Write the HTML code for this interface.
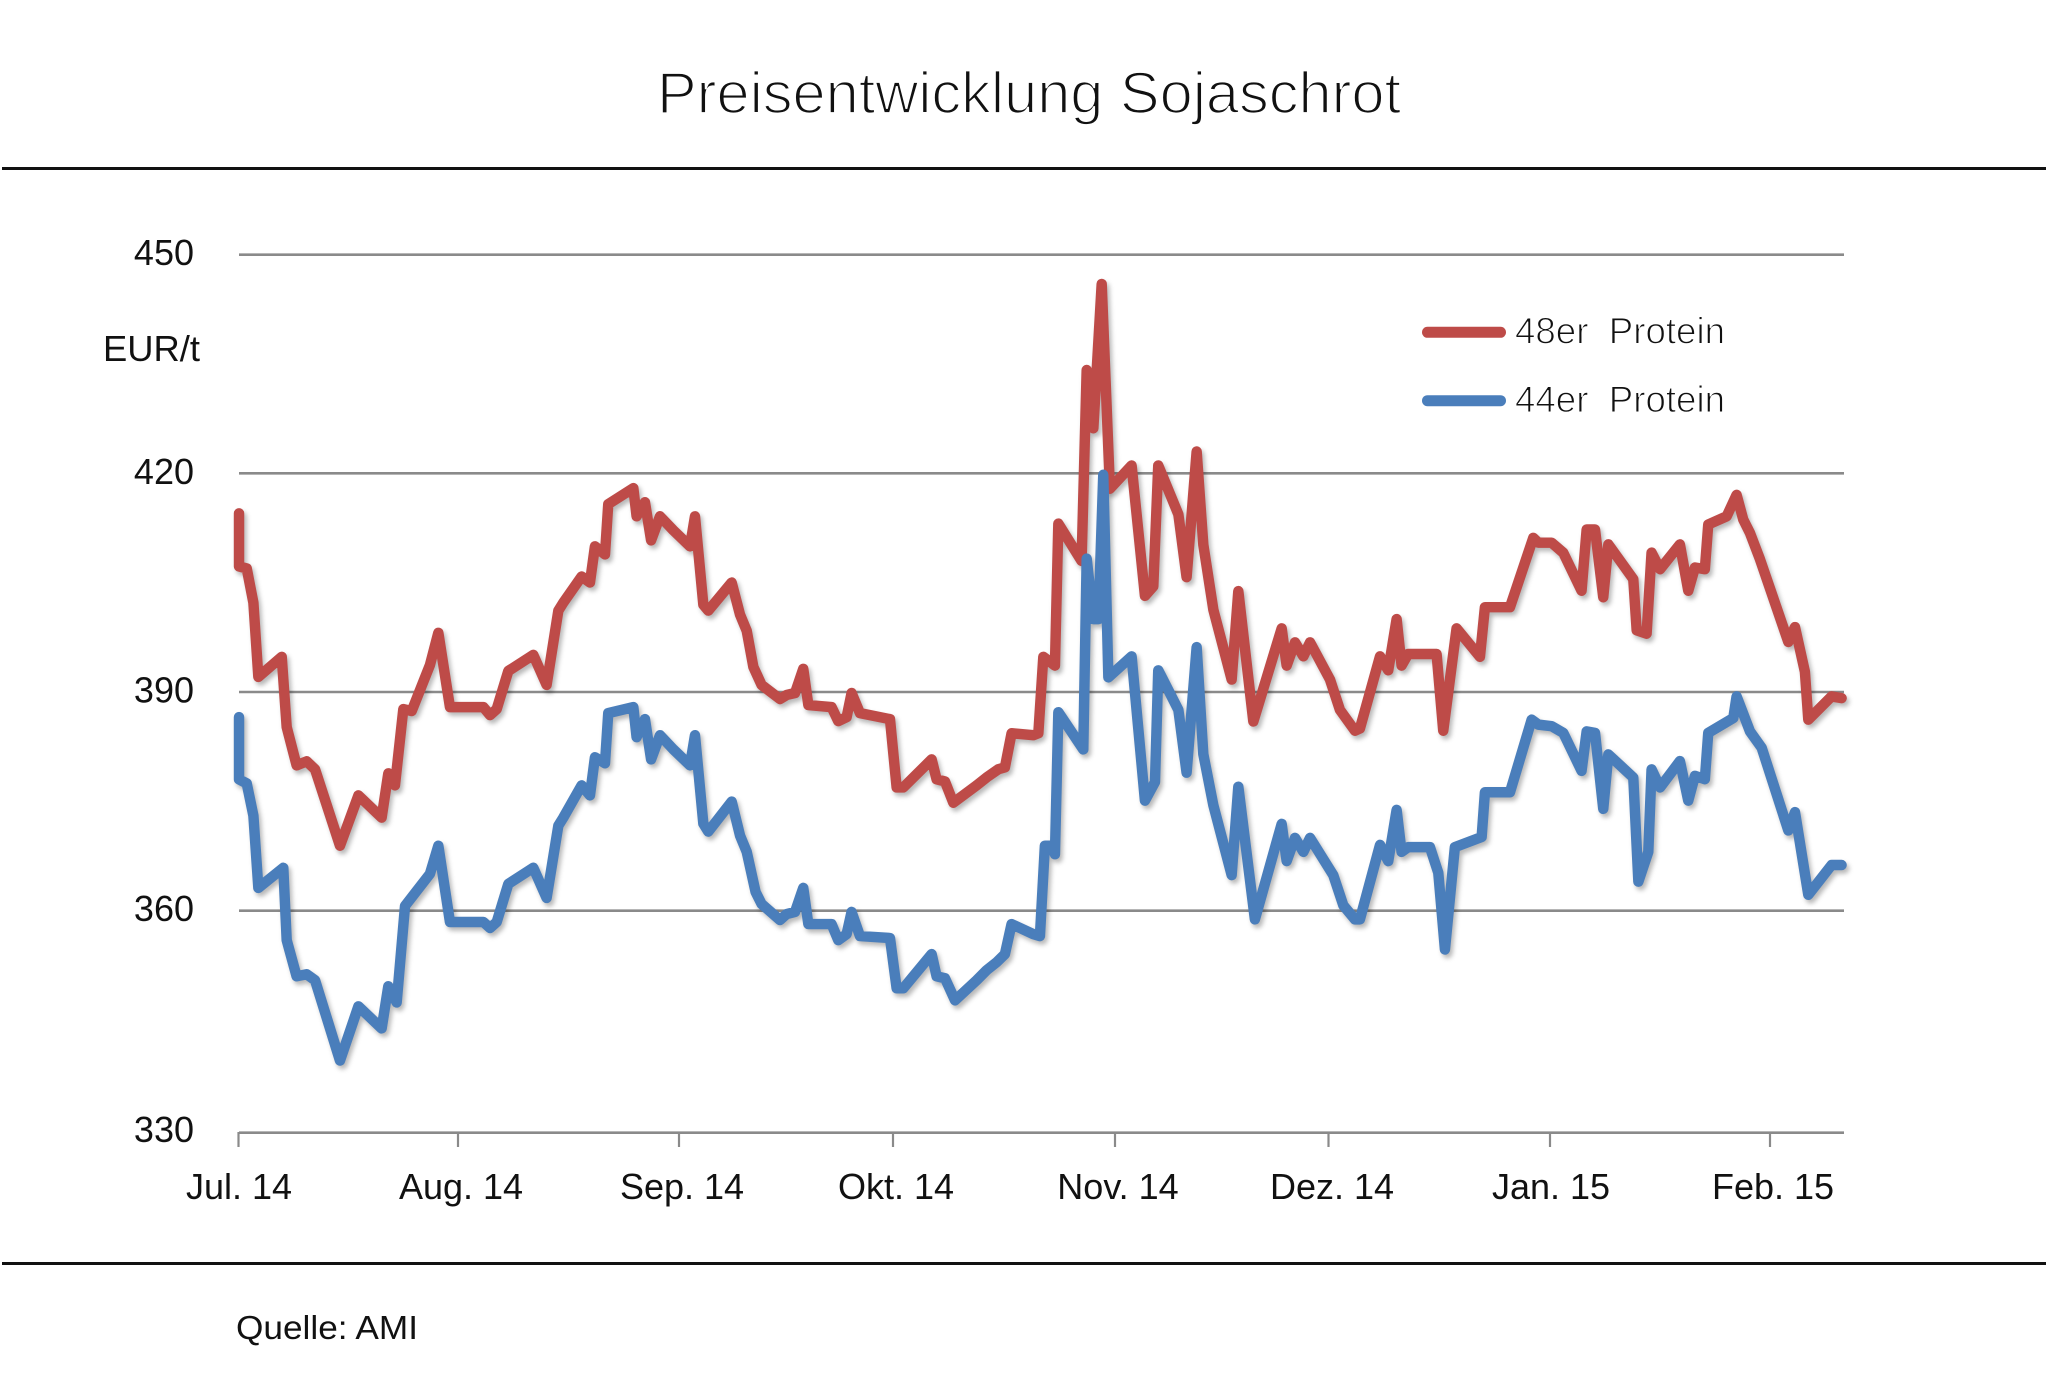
<!DOCTYPE html>
<html>
<head>
<meta charset="utf-8">
<style>
  html,body{margin:0;padding:0;background:#fff;}
  body{width:2048px;height:1400px;overflow:hidden;}
  svg{display:block;}
  text{font-family:"Liberation Sans","DejaVu Sans",sans-serif;fill:#111;}
</style>
</head>
<body>
<svg width="2048" height="1400" viewBox="0 0 2048 1400" xmlns="http://www.w3.org/2000/svg">
  <defs>
    <filter id="blur" x="-5%" y="-5%" width="110%" height="115%">
      <feGaussianBlur stdDeviation="1.8"/>
    </filter>
    <polyline id="red" points="
183,393 183,433.7 188.9,435.2 194,461.4 197.8,518.3 215.7,502.9 219.5,556.7 227.1,586 234.8,582.9 241.2,589
260.3,647.5 274.4,609 292.2,626 297.3,592.1 302.4,601.3 308.8,542.9 315.2,544.4 329.2,509.1 335.6,484.5 344.5,541.4
370.1,541.4 375.2,547.5 380.3,542.9 389.2,513.7 408.3,501.4 418.5,524.4 427.5,467.5 431.3,461.4 445.3,441.4 451.7,446
455.5,418.3 463.2,424.5 465.7,386 484.9,373.7 487.4,395.3 493.8,384.5 498.5,413.7 505.3,395.3 515.5,406 528.3,418.3
532.1,395.3 538.5,463 542.3,467.5 560.2,446 566.6,470.6 571.7,482.9 576.8,510.6 583.1,524.4 597.2,535.2 602.3,532.1
608.7,530.6 615,512.1 618.9,539.8 636.7,541.4 641.8,552.1 648.2,549.1 652,530.6 658.4,546 666.1,547.5 681.4,550.6
686.5,602.9 691.6,602.9 713.3,581.4 717.1,596.7 723.5,598.3 729.9,614.6 747.8,601.3 755.4,595.2 764.3,589 769.4,587.5
774.5,561.4 791.1,562.9 795,561.4 798.8,502.9 807.7,509.6 810.3,400.9 828.1,429.5 832,283.3 837.1,327.9 843.5,217.4
849.8,374.2 866.4,356.4 876.6,456.2 883,449 886.8,356.4 902.2,393.8 908.5,441.9 916.2,345.7 921.3,417 929,466.9
943,520.3 948.1,452.6 959.6,552.4 981.3,481.1 985.1,509.6 991.5,491.8 997.9,502.5 1003,491.8 1018.3,520.3 1025.9,543.5
1037.4,559.5 1041.2,557.8 1056.6,502.5 1062.9,513.2 1069.3,474 1073.1,509.6 1078.2,500.7 1099.9,500.7 1105,559.5 1115.2,481.1
1133.1,502.9 1136.9,464.9 1156.1,464.9 1173.9,411.8 1177.8,415.5 1188,415.5 1196.9,423.2 1210.9,452.3 1214.8,405.4 1221.2,405.4
1227.5,457.3 1231.4,416.8 1250.5,443.4 1253.1,482.6 1260.7,485.2 1264.5,423.1 1271,435.8 1286.2,416.8 1292.6,452.3 1297.7,434.5
1305.3,435.8 1307.9,401.6 1322,395.3 1329.6,378.9 1334.7,397.8 1339.8,408 1347.5,428.2 1369.2,491.5 1374.3,480.1 1381.9,514.3
1384.5,551 1402.3,533.2 1410,534.5"/>
    <polyline id="blue" points="
183,549 183,596.7 188.9,599.8 194,624.4 197.8,679.8 216.9,664.4 219.5,719.8 227.1,747.5 234.8,745.9 241.2,750.5
260.3,812 274.4,770.5 292.2,787.4 297.3,755.1 303.7,767.5 310.1,693.6 329.2,669 335.6,647.5 344.5,705.9 370.1,705.9
375.2,710.5 380.3,705.9 389.2,676.7 408.3,664.4 418.5,687.5 427.5,632.1 431.3,626 445.3,601.3 451.7,609 455.5,579.8
463.2,584.4 465.7,546 484.9,541.4 487.4,564.4 493.8,550.6 498.5,581.4 505.3,562.9 515.5,573.7 528.3,586 532.1,562.9
538.5,630.6 542.3,636.7 560.2,613.7 566.6,639.8 571.7,652.1 578.5,682.9 583.1,692.1 597.2,704.4 602.3,699.8 608.7,698.2
615,679.8 618.9,707.5 636.7,707.5 641.8,719.8 648.2,715.2 652,698.2 658.4,716.7 681.4,718.2 686.5,756.7 691.6,756.7
713.3,730.5 717.1,747.5 723.5,749 731.2,765.9 747.8,750.5 755.4,742.8 763.1,736.7 769.4,730.5 774.5,707.5 791.1,715.2
796.2,716.7 800,647.5 805.2,647.5 807.7,654 810.3,545.3 829.4,573.8 832,427.7 837.1,474 841,474 844.7,363.5
848.6,518.6 866.4,502.5 876.6,613 884.3,598.7 886.8,513.2 902.2,543.5 908.5,591.6 916.2,495.4 921.3,577.4 929,616.6
943,670 948.1,602.3 960.8,703.9 981.3,630.8 985.1,659.3 991.5,641.5 997.9,652.2 1003,641.5 1020.8,670 1028.5,693.2
1037.4,703.9 1041.2,703.9 1056.6,646.9 1062.9,659.3 1069.3,620.1 1073.1,652.2 1078.2,648.6 1094.8,648.6 1101.2,668.2 1106.3,727
1113.9,648.6 1134.4,640.8 1136.9,606.6 1156.1,606.6 1172.7,551 1177.8,554.8 1188,556 1196.9,561.1 1210.9,590.2 1214.8,560
1221.2,561.1 1227.5,619.3 1231.4,577.6 1250.5,595.3 1254.4,675 1262,652.2 1264.5,589 1271,602.9 1286.2,582.7 1292.6,613
1297.7,594 1305.3,596.6 1307.9,561.1 1327.1,549.7 1329.6,533.2 1339.8,559.9 1348.8,572.5 1369.2,635.8 1374.3,621.8 1384.5,685.1
1402.3,662.3 1410,662.3"/>
  </defs>
  <rect x="0" y="0" width="2048" height="1400" fill="#fff"/>

  <!-- Title -->
  <text x="657" y="113" font-size="58" textLength="744" lengthAdjust="spacingAndGlyphs" stroke="#fff" stroke-width="1.8">Preisentwicklung Sojaschrot</text>

  <!-- Rules -->
  <line x1="2" y1="168.5" x2="2046" y2="168.5" stroke="#111" stroke-width="3"/>
  <line x1="2" y1="1263.5" x2="2046" y2="1263.5" stroke="#111" stroke-width="3"/>

  <!-- Gridlines -->
  <g stroke="#8a8a8a" stroke-width="2.6">
    <line x1="239" y1="254.7" x2="1844" y2="254.7"/>
    <line x1="239" y1="473.3" x2="1844" y2="473.3"/>
    <line x1="239" y1="692" x2="1844" y2="692"/>
    <line x1="239" y1="910.7" x2="1844" y2="910.7"/>
    <line x1="239" y1="1132.7" x2="1844" y2="1132.7"/>
  </g>
  <g stroke="#8a8a8a" stroke-width="2.2">
    <line x1="238.5" y1="1132" x2="238.5" y2="1147"/>
    <line x1="458" y1="1132" x2="458" y2="1147"/>
    <line x1="679" y1="1132" x2="679" y2="1147"/>
    <line x1="893" y1="1132" x2="893" y2="1147"/>
    <line x1="1115" y1="1132" x2="1115" y2="1147"/>
    <line x1="1328.5" y1="1132" x2="1328.5" y2="1147"/>
    <line x1="1550" y1="1132" x2="1550" y2="1147"/>
    <line x1="1770" y1="1132" x2="1770" y2="1147"/>
  </g>

  <!-- Y labels -->
  <g font-size="36" text-anchor="end">
    <text x="194" y="265">450</text>
    <text x="194" y="484">420</text>
    <text x="194" y="702.5">390</text>
    <text x="194" y="921">360</text>
    <text x="194" y="1142">330</text>
  </g>
  <text x="103" y="361" font-size="36" textLength="97" lengthAdjust="spacingAndGlyphs">EUR/t</text>

  <!-- X labels -->
  <g font-size="36" text-anchor="middle">
    <text x="239" y="1199">Jul. 14</text>
    <text x="461" y="1199">Aug. 14</text>
    <text x="682" y="1199">Sep. 14</text>
    <text x="896" y="1199">Okt. 14</text>
    <text x="1118" y="1199">Nov. 14</text>
    <text x="1332" y="1199">Dez. 14</text>
    <text x="1551" y="1199">Jan. 15</text>
    <text x="1773" y="1199">Feb. 15</text>
  </g>

  <!-- Source -->
  <text x="236" y="1339" font-size="33" textLength="182" lengthAdjust="spacingAndGlyphs">Quelle: AMI</text>

  <!-- Legend -->
  <line x1="1427.5" y1="332.3" x2="1500.5" y2="332.3" stroke="#BE4B48" stroke-width="11" stroke-linecap="round"/>
  <line x1="1427.5" y1="400.7" x2="1500.5" y2="400.7" stroke="#4A7EBB" stroke-width="11" stroke-linecap="round"/>
  <text x="1515" y="343.5" font-size="37" textLength="210" lengthAdjust="spacingAndGlyphs" stroke="#fff" stroke-width="1.1" style="white-space:pre">48er  Protein</text>
  <text x="1515" y="412" font-size="37" textLength="210" lengthAdjust="spacingAndGlyphs" stroke="#fff" stroke-width="1.1" style="white-space:pre">44er  Protein</text>

  <!-- Series shadows -->
  <g transform="translate(2.5,3.5) scale(1.3061)" fill="none" stroke="#000" stroke-opacity="0.28" stroke-width="8" stroke-linejoin="round" stroke-linecap="round" filter="url(#blur)">
    <use href="#red"/>
    <use href="#blue"/>
  </g>
  <!-- Series -->
  <g transform="scale(1.3061)" fill="none" stroke-width="8" stroke-linejoin="round" stroke-linecap="round">
    <use href="#red" stroke="#BE4B48"/>
    <use href="#blue" stroke="#4A7EBB"/>
  </g>
</svg>
</body>
</html>
